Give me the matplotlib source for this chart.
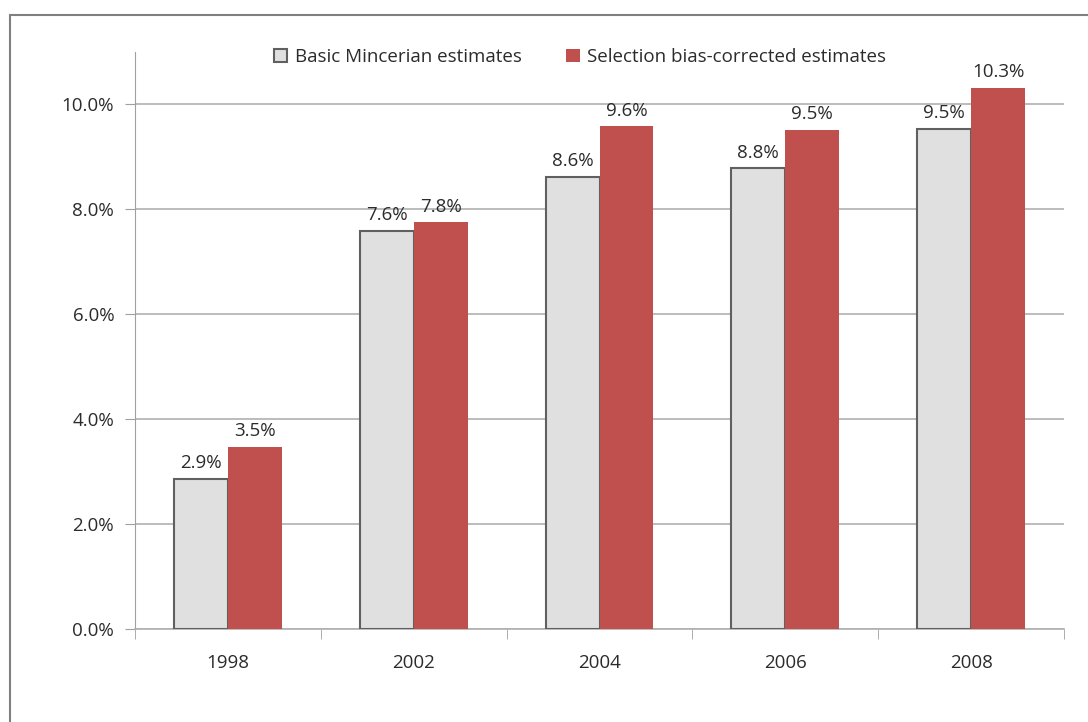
import numpy as np
import matplotlib
matplotlib.use("Agg")
import matplotlib.pyplot as plt
from matplotlib.patches import Rectangle
from matplotlib.ticker import FuncFormatter, FixedLocator

plt.rcParams['font.family'] = ['Open Sans', 'DejaVu Sans']

# data
years = ['1998', '2002', '2004', '2006', '2008']
basic = [2.86, 7.58, 8.61, 8.78, 9.54]
corrected = [3.47, 7.75, 9.58, 9.52, 10.31]
basic_lbl = ['2.9%', '7.6%', '8.6%', '8.8%', '9.5%']
corrected_lbl = ['3.5%', '7.8%', '9.6%', '9.5%', '10.3%']

fs = 13.5

fig = plt.figure(figsize=(10.88, 7.22), dpi=100)
# outer chart frame (excel style)
fig.patches.append(Rectangle((10/1088, -0.05), 1.1, 1 - 15/722 + 0.05,
                             transform=fig.transFigure, fill=False,
                             edgecolor='#808080', linewidth=1.5))

ax = fig.add_axes([135/1088, 1 - 629/722, (1064 - 135)/1088, (629 - 52)/722])

x = np.arange(len(years))
w = 0.29
b1 = ax.bar(x - w, basic, width=w, align='edge', color='#E0E0E0',
            edgecolor='#606060', linewidth=1.5, label='Basic Mincerian estimates', zorder=3)
b2 = ax.bar(x, corrected, width=w, align='edge', color='#C0504D',
            edgecolor='none', label='Selection bias-corrected estimates', zorder=3)

for rect, t in zip(b1, basic_lbl):
    ax.annotate(t, (rect.get_x() + rect.get_width()/2, rect.get_height()),
                xytext=(0, 5), textcoords='offset points', ha='center', va='bottom',
                fontsize=fs, color='#2b2b2b', zorder=4)
for rect, t in zip(b2, corrected_lbl):
    ax.annotate(t, (rect.get_x() + rect.get_width()/2, rect.get_height()),
                xytext=(0, 5), textcoords='offset points', ha='center', va='bottom',
                fontsize=fs, color='#2b2b2b', zorder=4)

ax.set_xlim(-0.5, 4.5)
ax.set_ylim(0, 11)
ax.set_yticks([0, 2, 4, 6, 8, 10])
ax.yaxis.set_major_formatter(FuncFormatter(lambda v, p: f'{v:.1f}%'))
ax.set_xticks(x)
ax.set_xticklabels(years)
ax.xaxis.set_minor_locator(FixedLocator(np.arange(-0.5, 5, 1)))
ax.tick_params(axis='x', which='major', length=0, pad=18, labelsize=fs, labelcolor='#2b2b2b')
ax.tick_params(axis='x', which='minor', length=7, color='#A0A0A0')
ax.tick_params(axis='y', length=7, color='#A0A0A0', labelsize=fs, labelcolor='#2b2b2b', pad=8)

ax.grid(axis='y', color='#B0B0B0', linewidth=1.2, zorder=0)
for s in ['top', 'right']:
    ax.spines[s].set_visible(False)
ax.spines['left'].set_color('#A0A0A0')
ax.spines['bottom'].set_color('#B0B0B0')
ax.spines['bottom'].set_linewidth(1.2)

ax.legend(loc='center', bbox_to_anchor=(580/1088, 1 - 57/722), bbox_transform=fig.transFigure,
          ncol=2, frameon=False, fontsize=fs, handlelength=0.7, handleheight=0.7,
          handletextpad=0.4, columnspacing=2.4, labelcolor='#2b2b2b')

plt.savefig("out.png", dpi=100)
